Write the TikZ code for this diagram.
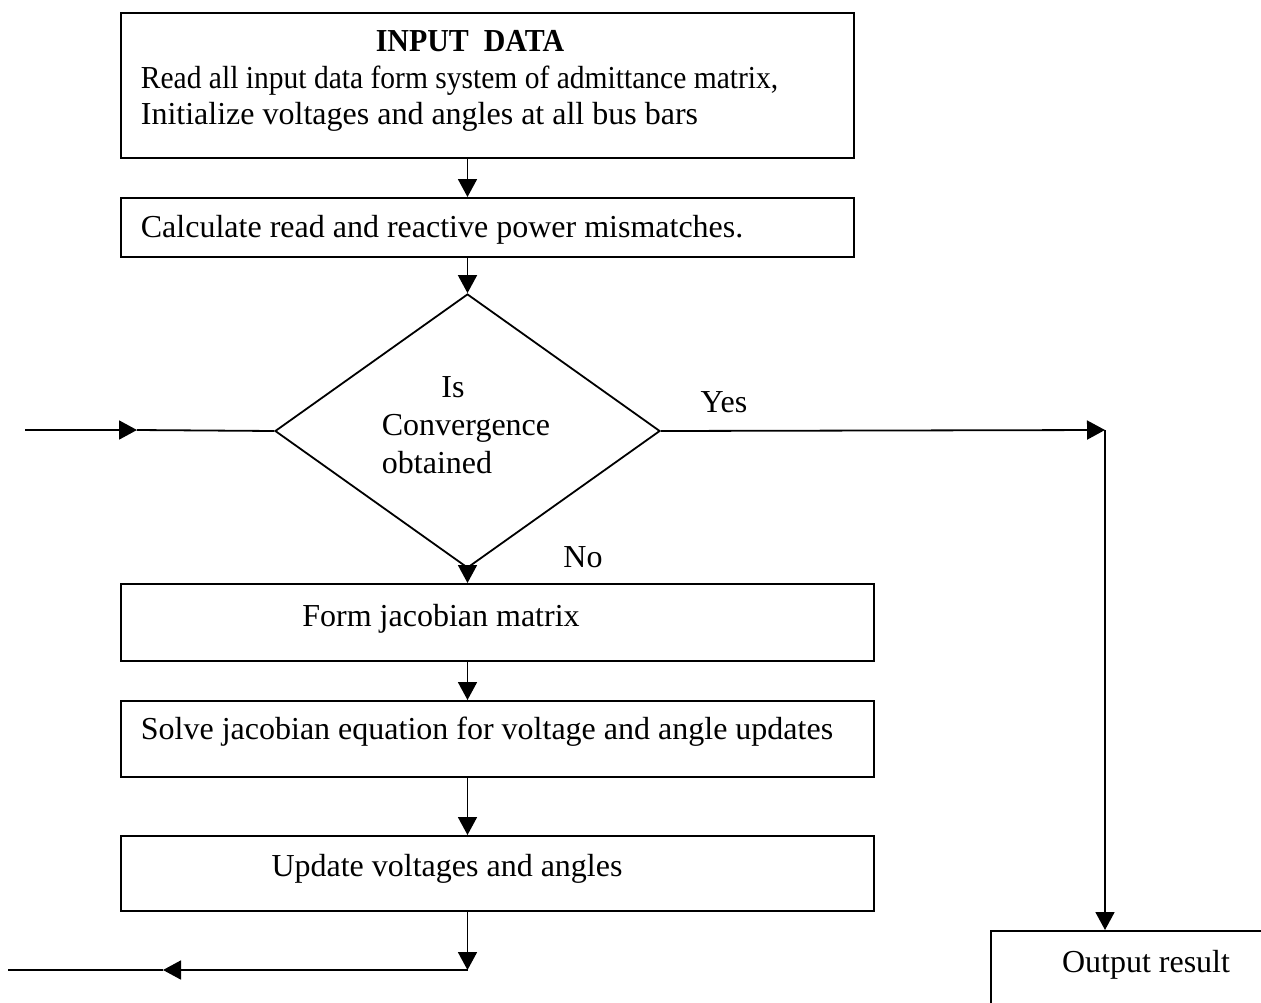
\documentclass[tikz,border=0pt]{standalone}
\usepackage{graphicx}
\usepackage{fontspec}
\setmainfont{Liberation Serif}
\usetikzlibrary{arrows.meta,shapes.geometric}

\begin{document}
\begin{tikzpicture}[x=1pt,y=-1pt,line width=1.8pt,
  >={Triangle[length=18pt,width=19pt]},
  box/.style={draw,rectangle,inner sep=0pt,anchor=north west},
  txt/.style={inner sep=0pt,anchor=base,font=\fontsize{32}{38}\selectfont},
  ltxt/.style={txt,anchor=base west}]
  \clip (0,0) rectangle (1261,1002);
  % boxes and decision
  \node[box,minimum width=733pt,minimum height=145pt] (input) at (120,12) {};
  \node[box,minimum width=733pt,minimum height=59pt] (calc) at (120,197) {};
  \node[draw,diamond,inner sep=0pt,minimum width=385pt,minimum height=274pt] (conv) at (467.5,431) {};
  \node[box,minimum width=753pt,minimum height=77pt] (jac) at (120,583) {};
  \node[box,minimum width=753pt,minimum height=76pt] (solve) at (120,700) {};
  \node[box,minimum width=753pt,minimum height=75pt] (upd) at (120,835) {};
  \node[box,minimum width=400pt,minimum height=200pt] (out) at (990,930) {};
  % texts
  \node[txt] (t1) at (470,51) {\scalebox{0.935}[1]{\bfseries INPUT\ \ DATA}};
  \node[ltxt] (t2) at (140,88) {\scalebox{0.923}[1]{Read all input data form system of admittance matrix,}};
  \node[ltxt] (t3) at (140,124) {Initialize voltages and angles at all bus bars};
  \node[ltxt] (t4) at (140,237) {Calculate read and reactive power mismatches.};
  \node[txt] (is) at (453,397) {Is};
  \node[txt] (cv) at (466,435) {Convergence};
  \node[txt] (ob) at (437,473) {obtained};
  \node[txt] (yes) at (724,412) {Yes};
  \node[txt] (no) at (583,567) {No};
  \node[txt] (t5) at (441,626) {Form jacobian matrix};
  \node[ltxt] (t6) at (140,739) {Solve jacobian equation for voltage and angle updates};
  \node[txt] (t7) at (447,876) {Update voltages and angles};
  \node[txt] (t8) at (1146,972) {Output result};
  % coordinates
  \coordinate (inend) at (25,430);
  \coordinate (inmid) at (137,430);
  \coordinate (yescorner) at (1105,430);
  \coordinate (lowrow) at (0,970);
  \coordinate (ret) at (conv |- lowrow);
  \coordinate (retmid) at (163,970);
  \coordinate (retend) at (8,970);
  % connectors
  \draw[->] (input.south -| conv) -- (calc.north -| conv);
  \draw[->] (calc.south -| conv) -- (conv.north);
  \draw[->] (conv.south) -- (jac.north -| conv);
  \draw[->] (jac.south -| conv) -- (solve.north -| conv);
  \draw[->] (solve.south -| conv) -- (upd.north -| conv);
  \draw[->] (upd.south -| conv) -- (ret);
  \draw[->] (ret) -- (retmid);
  \draw (retmid) -- (retend);
  \draw[->] (inend) -- (inmid);
  \draw (inmid) -- (conv.west);
  \draw[->] (conv.east) -- (yescorner);
  \draw[->] (yescorner) -- (out.north -| yescorner);
\end{tikzpicture}
\end{document}
